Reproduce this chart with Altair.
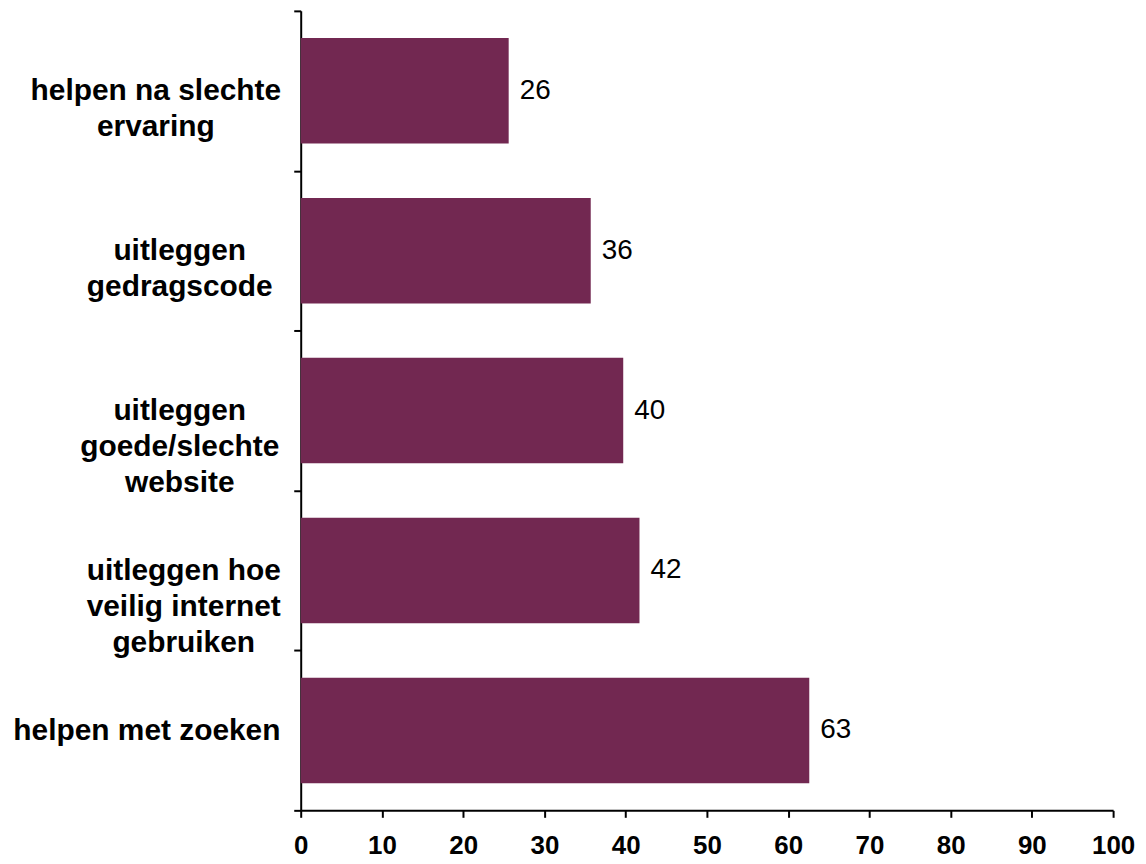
import altair as alt
import pandas as pd

categories = [
    "helpen na slechte|ervaring",
    "uitleggen|gedragscode",
    "uitleggen|goede/slechte|website",
    "uitleggen hoe|veilig internet|gebruiken",
    "helpen met zoeken",
]
values = [25.6, 35.7, 39.7, 41.7, 62.6]
value_labels = ["26", "36", "40", "42", "63"]

df = pd.DataFrame({"cat": categories, "val": values, "lab": value_labels})

FONT = "Liberation Sans"
COLOR = "#722851"

label_pad = {
    "helpen met zoeken": 148,
    "helpen na slechte|ervaring": 139,
    "uitleggen|gedragscode": 115,
    "uitleggen|goede/slechte|website": 115,
    "uitleggen hoe|veilig internet|gebruiken": 111,
}
pad_conditions = [
    {"test": f"datum.value == '{k}'", "value": v} for k, v in label_pad.items()
]

y_enc = alt.Y(
    "cat:N",
    sort=categories,
    title=None,
    scale=alt.Scale(paddingInner=0, paddingOuter=0),
    axis=alt.Axis(
        labelExpr="split(datum.label, '|')",
        labelFont=FONT,
        labelFontSize=30,
        labelFontWeight="bold",
        labelColor="black",
        labelAlign="center",
        labelBaseline="middle",
        labelLineHeight=36,
        labelPadding={"condition": pad_conditions, "value": 115},
        labelLimit=400,
        tickBand="extent",
        tickSize=7,
        tickColor="black",
        tickWidth=2,
        domainColor="black",
        domainWidth=2,
        grid=False,
    ),
)

x_enc = alt.X(
    "val:Q",
    title=None,
    scale=alt.Scale(domain=[0, 100], nice=False),
    axis=alt.Axis(
        values=list(range(0, 101, 10)),
        labelFont=FONT,
        labelFontSize=26,
        labelFontWeight="bold",
        labelColor="black",
        labelPadding=15,
        tickSize=7,
        tickColor="black",
        tickWidth=2,
        domainColor="black",
        domainWidth=2,
        grid=False,
        labelFlush=False,
    ),
)

base = alt.Chart(df)
bars = base.mark_bar(color=COLOR, height=alt.RelativeBandSize(0.66)).encode(x=x_enc, y=y_enc)
texts = base.mark_text(
    align="left", baseline="middle", dx=11, font=FONT, fontSize=28, color="black"
).encode(x="val:Q", y=alt.Y("cat:N", sort=categories), text="lab:N")

chart = (
    alt.layer(bars, texts)
    .properties(
        width=816,
        height=803,
        autosize=alt.AutoSizeParams(type="none"),
        padding={"left": 294, "top": 1, "right": 25, "bottom": 50},
        view=alt.ViewBackground(stroke="transparent", strokeWidth=0),
    )
    .configure_view(strokeWidth=0, stroke="transparent")
    .configure(background="white")
)

chart.save("out.html", embed_options={"renderer": "svg", "actions": False})
